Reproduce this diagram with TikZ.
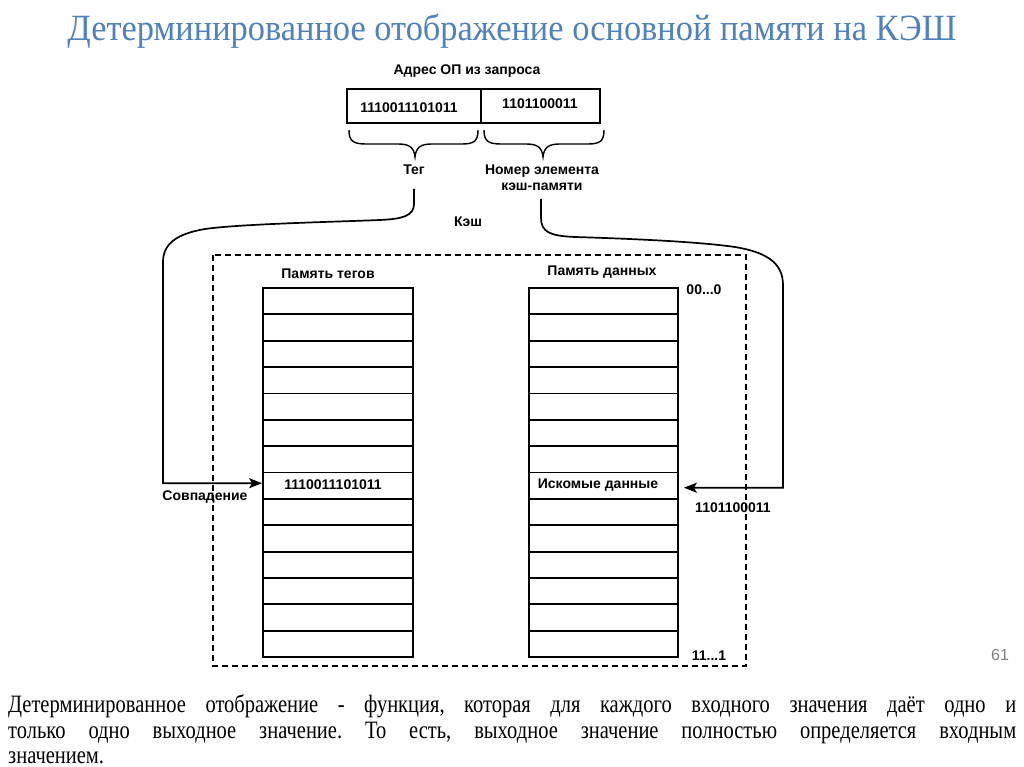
\documentclass[tikz,border=0pt]{standalone}
\usepackage{fontspec}
\setmainfont{Liberation Serif}
\newfontfamily\lsans{Liberation Sans}
\newfontfamily\condserif[FakeStretch=0.82]{Liberation Serif}
\newfontfamily\titleserif[FakeStretch=0.93]{Liberation Serif}
\usetikzlibrary{arrows.meta}
\definecolor{titleblue}{RGB}{79,129,189}
\definecolor{pagegray}{RGB}{128,128,128}
\frenchspacing
\begin{document}
\begin{tikzpicture}[x=1pt,y=-1pt,
  lbl/.style={font=\lsans\bfseries\fontsize{14}{16}\selectfont, inner sep=0pt},
  conn/.style={line width=1.7pt},
  field/.style={draw, line width=1.5pt, inner sep=0pt, minimum height=34pt},
  cell/.style={draw, line width=1.8pt, inner sep=0pt, minimum height=26.36pt},
  arr/.style={-{Stealth[length=13pt,width=10pt,inset=3pt]}},
  bodytext/.style={font=\condserif\fontsize{25}{26}\selectfont, inner sep=0pt}]
\useasboundingbox (0,0) rectangle (1024,767);
\fill[white] (0,0) rectangle (1024,767);

% title
\node[inner sep=0pt, text=titleblue, font=\titleserif\fontsize{37}{40}\selectfont] (title) at (512,31) {Детерминированное отображение основной памяти на КЭШ};

% address
\node[lbl] (addr) at (467,71) {Адрес ОП из запроса};
\node[field, minimum width=134pt] (tagf) at (414,106) {};
\node[field, minimum width=119pt] (idxf) at (540.5,106) {};
\node[lbl] (tagv) at (409,108) {1110011101011};
\node[lbl] (idxv) at (540,104) {1101100011};

% braces
\draw[line width=1.4pt] (349,130) .. controls (349,141) and (353,144) .. (366,144) -- (398,144) .. controls (409,144) and (414,147) .. (415,157) .. controls (416,147) and (421,144) .. (432,144) -- (462,144) .. controls (474,144) and (478,141) .. (478,130);
\draw[line width=1.4pt] (484,130) .. controls (484,141) and (488,144) .. (501,144) -- (526,144) .. controls (537,144) and (542,147) .. (543,157) .. controls (544,147) and (549,144) .. (560,144) -- (588,144) .. controls (600,144) and (604,141) .. (604,130);

\node[lbl] (teg) at (414,170) {Тег};
\node[lbl, align=center, font=\lsans\bfseries\fontsize{14}{16}\selectfont] (nomer) at (542,178) {Номер элемента\\кэш-памяти};

% cache frame
\node[lbl] (cache) at (468,222) {Кэш};
\draw[line width=1.4pt, dash pattern=on 6pt off 4pt] (213,255) rectangle (746,666);
\node[lbl] (tagmem) at (328,274) {Память тегов};
\node[lbl] (datamem) at (602,272) {Память данных};
\node[lbl] (first) at (704,290) {00...0};
\node[lbl] (last) at (709,656) {11...1};

% tables
\foreach \i in {0,...,13} {
  \node[cell, minimum width=150pt] (t\i) at (338,{301.18+26.36*\i}) {};
  \node[cell, minimum width=149pt] (d\i) at (603.5,{301.18+26.36*\i}) {};
}
\node[lbl] (tagrow) at (333,485) {1110011101011};
\node[lbl] (datarow) at (598,485) {Искомые данные};

% connectors
\coordinate (tegbot) at (414,189);
\coordinate (nombot) at (541,199);
\draw[conn, arr] (tegbot) -- (414,204) .. controls (414,216) and (402,219) .. (380,220) .. controls (330,222) and (240,224) .. (205,229) .. controls (175,234) and (163,245) .. (163,262) |- ([yshift=2.5pt]t7.west);
\draw[conn, arr] (nombot) -- (541,218) .. controls (541,232) and (550,236) .. (575,237) .. controls (640,239) and (700,242) .. (735,247) .. controls (765,252) and (783,262) .. (783,285) |- ([xshift=5pt,yshift=-2pt]d7.east);

\node[lbl] (match) at (205,497) {Совпадение};
\node[lbl] (idxlbl) at (733,508) {1101100011};

% page number
\node[inner sep=0pt, text=pagegray, font=\lsans\fontsize{16}{18}\selectfont] (pnum) at (1000,655) {61};

% body text
\node[bodytext, anchor=base west] (line1) at (8,712) {\makebox[1008pt][s]{Детерминированное отображение - функция, которая для каждого входного значения даёт одно и}};
\node[bodytext, anchor=base west] (line2) at (8,738) {\makebox[1008pt][s]{только одно выходное значение. То есть, выходное значение полностью определяется входным}};
\node[bodytext, anchor=base west] (line3) at (8,763) {значением.};
\end{tikzpicture}
\end{document}
